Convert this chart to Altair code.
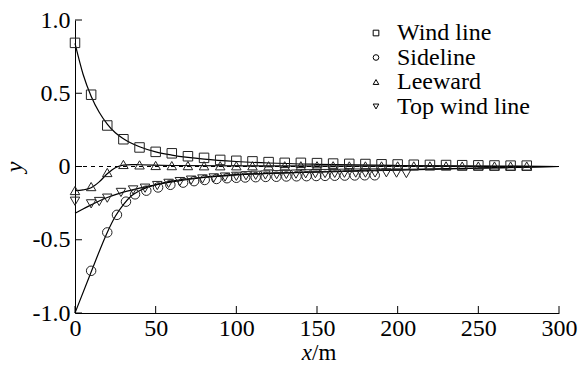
import altair as alt
import pandas as pd

# ---- data ----
series_names = ["Wind line", "Sideline", "Leeward", "Top wind line"]
series_shapes = ["square", "circle", "triangle-up", "triangle-down"]

wind_x = [0, 10, 20, 30, 40, 50, 60, 70, 80, 90, 100, 110, 120, 130, 140,
          150, 160, 170, 180, 190, 200, 210, 220, 230, 240, 250, 260, 270, 280]
wind_y = [0.844, 0.49, 0.28, 0.186, 0.13, 0.10, 0.09, 0.07, 0.059, 0.045, 0.039,
          0.035, 0.03, 0.025, 0.025, 0.023, 0.02, 0.018, 0.017, 0.015, 0.014,
          0.012, 0.011, 0.01, 0.009, 0.008, 0.007, 0.006, 0.006]

side_x = [10, 20, 26, 31.6, 37.2, 44.2, 51.5, 59.1, 67, 73.8, 80.4, 87.7, 94.2,
          100, 105.5, 112, 118.2, 124.8, 131, 137.3, 143.5, 149.5, 155, 161,
          167.2, 173.4, 179.6, 185.8]
side_y = [-0.712, -0.45, -0.33, -0.24, -0.19, -0.165, -0.143, -0.125, -0.11,
          -0.1, -0.092, -0.085, -0.08, -0.077, -0.075, -0.073, -0.071, -0.07,
          -0.068, -0.067, -0.066, -0.065, -0.064, -0.063, -0.062, -0.061,
          -0.06, -0.06]

lee_x = wind_x
lee_y = [-0.164, -0.137, -0.041, 0.014, 0.011, 0.007, 0.006, 0.006, 0.005, 0.005,
         0.005, 0.005, 0.005, 0.005, 0.005, 0.005, 0.005, 0.004, 0.004, 0.004,
         0.004, 0.004, 0.004, 0.004, 0.003, 0.003, 0.003, 0.003, 0.003]

top_x = [0, 10, 15, 20, 28.5, 36, 43.4, 51, 58, 65, 72, 79, 86, 93, 100, 106, 112,
         118, 125, 131, 137, 143, 149, 155, 161, 167, 174, 180, 186, 193, 199.3, 205.4]
top_y = [-0.237, -0.255, -0.239, -0.216, -0.177, -0.16, -0.148, -0.13, -0.115,
         -0.103, -0.093, -0.085, -0.078, -0.072, -0.067, -0.063, -0.06, -0.058,
         -0.056, -0.054, -0.052, -0.05, -0.049, -0.048, -0.047, -0.046, -0.045,
         -0.045, -0.044, -0.043, -0.045, -0.048]

# fitted curves
wind_cx = [0, 5, 10, 15, 20, 25, 30, 40, 50, 60, 70, 80, 100, 120, 150, 200, 250, 300]
wind_cy = [0.84, 0.63, 0.48, 0.37, 0.29, 0.23, 0.19, 0.135, 0.10, 0.078, 0.062,
           0.05, 0.034, 0.024, 0.015, 0.007, 0.003, 0]
lee_cx = [0, 5, 10, 15, 20, 25, 30, 35, 40, 60, 100, 200, 300]
lee_cy = [-0.165, -0.16, -0.145, -0.105, -0.05, -0.008, 0.01, 0.013, 0.012,
          0.007, 0.004, 0.002, 0]
side_cx = [0, 10, 20, 25, 30, 35, 40, 50, 60, 80, 100, 125, 150, 200, 250, 300]
side_cy = [-1.0, -0.72, -0.45, -0.34, -0.26, -0.2, -0.165, -0.125, -0.1, -0.072,
           -0.055, -0.045, -0.038, -0.025, -0.012, 0]
top_cx = [0, 5, 10, 15, 20, 30, 40, 50, 60, 80, 100, 125, 150, 200, 250, 300]
top_cy = [-0.32, -0.29, -0.262, -0.235, -0.212, -0.175, -0.148, -0.125, -0.105,
          -0.075, -0.058, -0.045, -0.036, -0.022, -0.01, 0]

x_ticks = [0, 50, 100, 150, 200, 250, 300]
y_ticks = [-1.0, -0.5, 0, 0.5, 1.0]

# ---- tables ----
pts = pd.concat([
    pd.DataFrame({"x": wind_x, "y": wind_y, "s": "Wind line"}),
    pd.DataFrame({"x": side_x, "y": side_y, "s": "Sideline"}),
    pd.DataFrame({"x": lee_x, "y": lee_y, "s": "Leeward"}),
    pd.DataFrame({"x": top_x, "y": top_y, "s": "Top wind line"}),
])
crv = pd.concat([
    pd.DataFrame({"x": wind_cx, "y": wind_cy, "s": "Wind line"}),
    pd.DataFrame({"x": side_cx, "y": side_cy, "s": "Sideline"}),
    pd.DataFrame({"x": lee_cx, "y": lee_cy, "s": "Leeward"}),
    pd.DataFrame({"x": top_cx, "y": top_cy, "s": "Top wind line"}),
])

FONT = "Liberation Serif"
W, H = 484, 293

xs = alt.Scale(domain=[0, 300], nice=False, zero=False)
ys = alt.Scale(domain=[-1, 1], nice=False, zero=False)

xaxis = alt.Axis(values=x_ticks, title=None, labelPadding=3,
                 labelFont=FONT, labelFontSize=24)
yaxis = alt.Axis(values=y_ticks, title="y", titlePadding=6, labelPadding=5,
                 labelFont=FONT, labelFontSize=24, titleFont=FONT, titleFontSize=24,
                 labelExpr="datum.value == 0 ? '0' : (datum.value < 0 ? '-' : '') + format(abs(datum.value), '.1f')")

X = alt.X("x:Q", scale=xs, axis=xaxis)
Y = alt.Y("y:Q", scale=ys, axis=yaxis)

zero = alt.Chart(pd.DataFrame({"y": [0]})).mark_rule(
    color="black", strokeDash=[4, 4], strokeWidth=1
).encode(y=Y)

lines = alt.Chart(crv).mark_line(color="black", strokeWidth=1.2, interpolate="monotone").encode(
    x=X, y=Y, detail="s:N"
)

points = alt.Chart(pts).mark_point(filled=False, color="#222", strokeWidth=1, size=90, opacity=1).encode(
    x=X, y=Y,
    shape=alt.Shape("s:N", scale=alt.Scale(domain=series_names, range=series_shapes),
                    legend=alt.Legend(title=None, orient="none", legendX=289, legendY=1,
                                      labelFont=FONT, labelFontSize=24)),
)

xt = alt.Chart(pd.DataFrame({"x": x_ticks})).mark_rule(color="black", strokeWidth=1).encode(
    x=X, y=alt.value(H), y2=alt.value(H - 7)
)
yt = alt.Chart(pd.DataFrame({"y": y_ticks})).mark_rule(color="black", strokeWidth=1).encode(
    y=Y, x=alt.value(0), x2=alt.value(7)
)

t1 = alt.Chart(pd.DataFrame({"t": ["x"]})).mark_text(
    font=FONT, fontSize=23, fontStyle="italic", align="right", baseline="alphabetic", color="black"
).encode(text="t:N", x=alt.value(237), y=alt.value(340))
t2 = alt.Chart(pd.DataFrame({"t": ["/m"]})).mark_text(
    font=FONT, fontSize=23, align="left", baseline="alphabetic", color="black"
).encode(text="t:N", x=alt.value(237), y=alt.value(340))

chart = alt.layer(zero, lines, points, xt, yt, t1, t2).properties(
    width=W, height=H,
    autosize=alt.AutoSizeParams(type="none"),
    padding={"left": 75, "top": 20, "right": 21, "bottom": 53},
).configure(background="white", font=FONT).configure_view(stroke=None).configure_axis(
    ticks=False, grid=False, domainColor="black", domainWidth=1,
    labelFont=FONT, labelFontSize=24, labelColor="black", labelFlush=False,
    titleFont=FONT, titleFontSize=24, titleFontStyle="italic",
    titleFontWeight="normal", titleColor="black",
).configure_legend(
    labelFont=FONT, labelFontSize=24, labelColor="black",
    symbolSize=32, symbolStrokeWidth=1, symbolStrokeColor="black",
    symbolFillColor="transparent", labelOffset=9, rowPadding=0.5, padding=0,
)

chart.save("out.html", embed_options={"renderer": "svg", "actions": False})
